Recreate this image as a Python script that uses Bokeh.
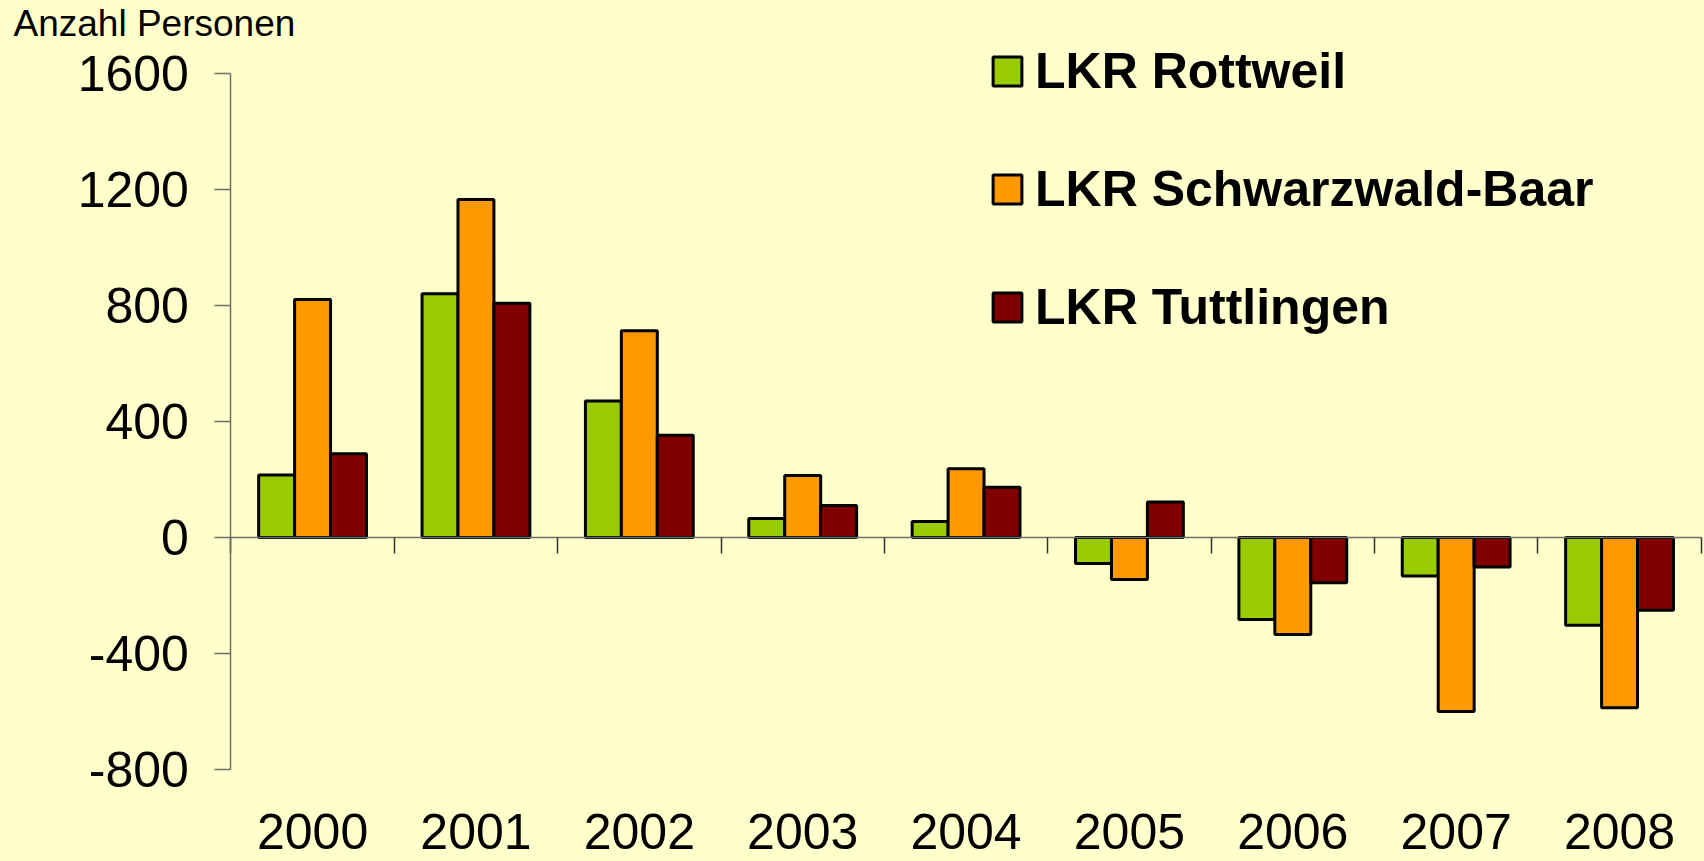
from bokeh.plotting import figure
from bokeh.models import (ColumnDataSource, Range1d, FixedTicker, LinearAxis, Legend, LegendItem,
                          Label, CustomJSTickFormatter)
from bokeh.transform import dodge
from bokeh.embed import file_html
from bokeh.resources import INLINE

# ---- data ----
years = ["2000", "2001", "2002", "2003", "2004", "2005", "2006", "2007", "2008"]
rottweil = [215, 840, 470, 65, 55, -90, -283, -133, -303]
schwarzwald_baar = [820, 1165, 712, 213, 237, -145, -335, -600, -587]
tuttlingen = [288, 807, 352, 110, 173, 122, -156, -102, -251]
series_names = ["LKR Rottweil", "LKR Schwarzwald-Baar", "LKR Tuttlingen"]
series_colors = ["#99CC00", "#FF9900", "#800000"]
y_ticks = [-800, -400, 0, 400, 800, 1200, 1600]
y_title = "Anzahl Personen"

FONT = "Liberation Sans"
BG = "#FFFFCC"
AXC = "#6e6e6e"

W, H = 1704, 861
n = len(years)
idx = list(range(n))
src = ColumnDataSource(dict(x=idx, year=years, r=rottweil, s=schwarzwald_baar, t=tuttlingen))

# frame covers the whole canvas; axes are pinned with fixed_location
x_start, x_end = -1.9103, 8.52
y_start, y_end = -1117.1, 1850.6

p = figure(width=W, height=H, output_backend="svg", toolbar_location=None,
           x_range=Range1d(x_start, x_end), y_range=Range1d(y_start, y_end),
           title=None, x_axis_type=None, y_axis_type=None)
p.min_border = 0
p.min_border_left = 0
p.min_border_right = 0
p.min_border_top = 0
p.min_border_bottom = 0
p.background_fill_color = BG
p.border_fill_color = BG
p.outline_line_color = None
p.grid.visible = False

bw = 0.22
renderers = []
for off, col, color in zip([-bw, 0, bw], ["r", "s", "t"], series_colors):
    r = p.vbar(x=dodge("x", off), top=col, bottom=0, width=bw, source=src,
               fill_color=color, line_color="black", line_width=3)
    renderers.append(r)

# y axis pinned at the left category boundary
yax = LinearAxis(fixed_location=-0.5, bounds=(y_ticks[0], y_ticks[-1]),
                 ticker=FixedTicker(ticks=y_ticks),
                 formatter=CustomJSTickFormatter(code="return tick.toFixed(0)"),
                 minor_tick_line_color=None, major_tick_out=16, major_tick_in=0,
                 axis_line_color=AXC, axis_line_width=1.5,
                 major_tick_line_color=AXC, major_tick_line_width=1.5,
                 major_label_text_font=FONT, major_label_text_font_size="50px",
                 major_label_text_color="black", major_label_standoff=26)
p.add_layout(yax, "left")

# zero line with category separators
zero_axis = LinearAxis(fixed_location=0, bounds=(-0.5, n - 0.5),
                       ticker=FixedTicker(ticks=[i - 0.5 for i in range(n + 1)]),
                       formatter=CustomJSTickFormatter(code="return ''"),
                       major_tick_out=16, major_tick_in=0,
                       axis_line_color=AXC, axis_line_width=1.5,
                       major_tick_line_color="#333333", major_tick_line_width=1.5,
                       minor_tick_line_color=None)
p.add_layout(zero_axis, "below")

# year labels under the plot
label_axis = LinearAxis(fixed_location=y_ticks[0], ticker=FixedTicker(ticks=idx),
                        major_label_overrides={i: y for i, y in zip(idx, years)},
                        axis_line_color=None, major_tick_line_color=None,
                        minor_tick_line_color=None, major_tick_out=0, major_tick_in=0,
                        major_label_text_font=FONT, major_label_text_font_size="50px",
                        major_label_text_color="black", major_label_standoff=44)
p.add_layout(label_axis, "below")

# unit title
p.add_layout(Label(x=-1.8307, y=1770, text=y_title, text_font=FONT, text_font_size="37px",
                   text_color="black", text_align="left", text_baseline="alphabetic"))

legend = Legend(items=[LegendItem(label=nm, renderers=[r]) for nm, r in zip(series_names, renderers)],
                location=(989, 525), orientation="vertical",
                glyph_width=36, glyph_height=36, label_standoff=10, spacing=60, padding=0,
                label_text_font=FONT, label_text_font_size="50px", label_text_font_style="bold",
                label_text_color="black", border_line_color=None, background_fill_alpha=0)
p.add_layout(legend, "center")

html = file_html(p, INLINE, title="Chart")
html = html.replace("<head>", "<head><style>body{background:#FFFFCC;}</style>", 1)
open("out.html", "w").write(html)
